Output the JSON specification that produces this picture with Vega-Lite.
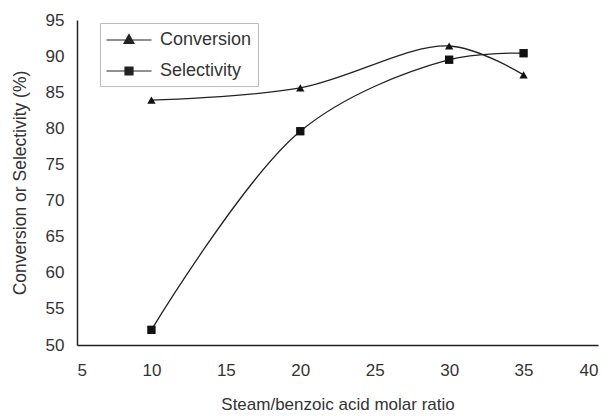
{
  "$schema": "https://vega.github.io/schema/vega-lite/v6.json",
  "width": 521,
  "height": 325,
  "autosize": {"type": "none"},
  "padding": {"left": 77, "top": 20, "right": 14, "bottom": 71},
  "background": "white",
  "config": {
    "view": {"stroke": null},
    "font": "Liberation Sans",
    "axis": {"grid": false, "domainColor": "#222", "domainWidth": 1.5, "labelColor": "#333", "titleColor": "#333", "labelFont": "Liberation Sans", "titleFont": "Liberation Sans", "titleFontWeight": "normal"}
  },
  "data": {
    "values": [
      {"ratio": 10, "value": 83.9, "series": "Conversion"},
      {"ratio": 20, "value": 85.6, "series": "Conversion"},
      {"ratio": 30, "value": 91.4, "series": "Conversion"},
      {"ratio": 35, "value": 87.4, "series": "Conversion"},
      {"ratio": 10, "value": 52.1, "series": "Selectivity"},
      {"ratio": 20, "value": 79.6, "series": "Selectivity"},
      {"ratio": 30, "value": 89.5, "series": "Selectivity"},
      {"ratio": 35, "value": 90.4, "series": "Selectivity"}
    ]
  },
  "encoding": {
    "x": {
      "field": "ratio", "type": "quantitative",
      "scale": {"domain": [5, 40], "nice": false, "zero": false},
      "axis": {"values": [5, 10, 15, 20, 25, 30, 35, 40], "tickSize": 0, "labelPadding": 17, "labelFontSize": 17, "title": "Steam/benzoic acid molar ratio", "titleFontSize": 17, "titlePadding": 18}
    },
    "y": {
      "field": "value", "type": "quantitative",
      "scale": {"domain": [50, 95], "nice": false, "zero": false},
      "axis": {"values": [50, 55, 60, 65, 70, 75, 80, 85, 90, 95], "tickSize": 0, "labelPadding": 13, "labelFontSize": 17, "title": "Conversion or Selectivity (%)", "titleFontSize": 17.5, "titlePadding": 16}
    }
  },
  "layer": [
    {
      "mark": {"type": "line", "interpolate": "catmull-rom", "color": "#222", "strokeWidth": 1.3},
      "encoding": {"detail": {"field": "series"}}
    },
    {
      "mark": {"type": "point", "filled": true, "color": "#111", "opacity": 1, "size": 70},
      "encoding": {
        "shape": {
          "field": "series", "type": "nominal",
          "scale": {"domain": ["Conversion", "Selectivity"], "range": ["triangle-up", "square"]},
          "legend": null
        }
      }
    },
    {
      "mark": {"type": "point", "filled": false, "color": "#222", "strokeWidth": 1.2, "opacity": 0, "size": 70},
      "encoding": {
        "shape": {
          "field": "series", "type": "nominal",
          "scale": {"domain": ["Conversion", "Selectivity"], "range": [
            "M-2.25,0H2.25M0,-0.55L0.5,0.35L-0.5,0.35ZM0,-0.4L0.375,0.275L-0.375,0.275ZM0,-0.25L0.25,0.2L-0.25,0.2ZM0,-0.1L0.125,0.125L-0.125,0.125Z",
            "M-2.25,0H2.25M-0.4,-0.4H0.4V0.4H-0.4ZM-0.3,-0.3H0.3V0.3H-0.3ZM-0.2,-0.2H0.2V0.2H-0.2ZM-0.1,-0.1H0.1V0.1H-0.1Z"
          ]},
          "legend": {
            "title": null,
            "orient": "none",
            "legendX": 23,
            "legendY": 3,
            "padding": 6,
            "strokeColor": "#bbb",
            "symbolSize": 400,
            "symbolOffset": 12,
            "labelOffset": 20,
            "labelFontSize": 18,
            "labelColor": "#333",
            "rowPadding": 11,
            "symbolOpacity": 1,
            "symbolStrokeColor": "#222",
            "symbolStrokeWidth": 1.2
          }
        }
      }
    }
  ],
  "resolve": {"scale": {"shape": "independent"}}
}
